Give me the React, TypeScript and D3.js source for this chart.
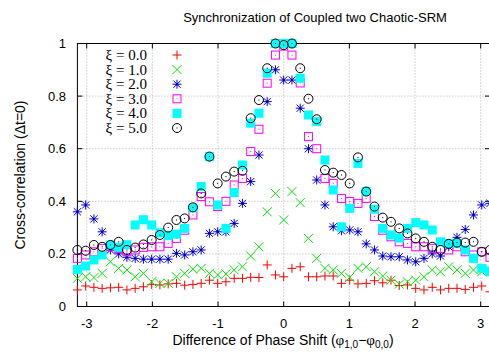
import React from "react";
import * as d3 from "d3";

const W = 489, H = 354;
const N_POINTS = 51;
const xTicks = [-3, -2, -1, 0, 1, 2, 3];
const yTicks = [0, 0.2, 0.4, 0.6, 0.8, 1];
const yTickLabels = ["0", "0.2", "0.4", "0.6", "0.8", "1"];
const legendLabels = ["ξ = 0.0", "ξ = 1.0", "ξ = 2.0", "ξ = 3.0", "ξ = 4.0", "ξ = 5.0"];

const xi0 = [0.063, 0.078, 0.073, 0.069, 0.071, 0.073, 0.063, 0.069, 0.075, 0.084, 0.082, 0.086, 0.088, 0.081, 0.084, 0.088, 0.100, 0.088, 0.094, 0.107, 0.107, 0.111, 0.110, 0.158, 0.120, 0.113, 0.145, 0.151, 0.113, 0.113, 0.116, 0.116, 0.088, 0.100, 0.086, 0.088, 0.098, 0.090, 0.100, 0.080, 0.082, 0.069, 0.063, 0.073, 0.063, 0.069, 0.069, 0.065, 0.073, 0.078, 0.056];
const xi1 = [0.107, 0.113, 0.110, 0.126, 0.170, 0.145, 0.139, 0.113, 0.126, 0.094, 0.088, 0.088, 0.113, 0.126, 0.142, 0.145, 0.126, 0.120, 0.124, 0.139, 0.151, 0.192, 0.227, 0.360, 0.430, 0.329, 0.437, 0.395, 0.259, 0.183, 0.145, 0.139, 0.126, 0.111, 0.145, 0.151, 0.132, 0.116, 0.100, 0.085, 0.094, 0.100, 0.113, 0.139, 0.132, 0.151, 0.139, 0.126, 0.139, 0.132, 0.141];
const xi2 = [0.360, 0.386, 0.333, 0.284, 0.215, 0.200, 0.187, 0.183, 0.180, 0.180, 0.180, 0.180, 0.202, 0.196, 0.208, 0.215, 0.278, 0.284, 0.284, 0.316, 0.392, 0.475, 0.576, 0.779, 0.900, 0.861, 0.861, 0.754, 0.600, 0.481, 0.386, 0.303, 0.288, 0.291, 0.284, 0.238, 0.215, 0.192, 0.189, 0.189, 0.177, 0.170, 0.183, 0.200, 0.192, 0.227, 0.263, 0.293, 0.348, 0.386, 0.392];
const xi3 = [0.183, 0.196, 0.208, 0.221, 0.227, 0.221, 0.208, 0.215, 0.225, 0.227, 0.227, 0.240, 0.259, 0.290, 0.348, 0.418, 0.398, 0.380, 0.400, 0.462, 0.487, 0.589, 0.674, 0.849, 0.956, 0.990, 0.956, 0.850, 0.646, 0.600, 0.487, 0.468, 0.411, 0.399, 0.392, 0.411, 0.342, 0.290, 0.265, 0.246, 0.240, 0.227, 0.227, 0.221, 0.221, 0.215, 0.227, 0.208, 0.196, 0.208, 0.187];
const xi4 = [0.141, 0.154, 0.177, 0.196, 0.234, 0.225, 0.235, 0.310, 0.330, 0.310, 0.280, 0.270, 0.275, 0.297, 0.375, 0.456, 0.570, 0.386, 0.297, 0.433, 0.538, 0.697, 0.735, 0.887, 1.000, 1.000, 1.000, 0.868, 0.728, 0.703, 0.557, 0.443, 0.303, 0.373, 0.544, 0.437, 0.370, 0.297, 0.272, 0.260, 0.297, 0.319, 0.310, 0.291, 0.246, 0.240, 0.240, 0.215, 0.183, 0.145, 0.132];
const xi5 = [0.215, 0.212, 0.234, 0.227, 0.234, 0.246, 0.215, 0.224, 0.236, 0.253, 0.272, 0.300, 0.329, 0.335, 0.377, 0.430, 0.570, 0.468, 0.494, 0.513, 0.516, 0.716, 0.785, 0.906, 1.000, 0.994, 1.000, 0.906, 0.790, 0.712, 0.519, 0.509, 0.500, 0.468, 0.567, 0.437, 0.380, 0.338, 0.322, 0.297, 0.278, 0.259, 0.246, 0.227, 0.215, 0.238, 0.243, 0.243, 0.246, 0.208, 0.215];

const series = [xi0, xi1, xi2, xi3, xi4, xi5];
const colors = ["#ff0000", "#00e600", "#0000ff", "#ff00ff", "#00ffff", "#000000"];
const kinds = ["plus", "cross", "star", "box", "fbox", "circle"];

const left = 77.4, right = 490, top = 43.5, bottom = 306.5;
const x = d3.scaleLinear().domain([-Math.PI, Math.PI]).range([left, right]);
const y = d3.scaleLinear().domain([0, 1]).range([bottom, top]);
const phases = d3.range(N_POINTS).map((i) => -Math.PI + (i * 2 * Math.PI) / (N_POINTS - 1));

function Marker({ kind, cx, cy, color }: { kind: string; cx: number; cy: number; color: string }) {
  const s = 4.5;
  if (kind === "plus")
    return <path d={`M${cx - s},${cy}H${cx + s}M${cx},${cy - s}V${cy + s}`} stroke={color} strokeWidth={1} fill="none" />;
  if (kind === "cross")
    return <path d={`M${cx - s},${cy - s}L${cx + s},${cy + s}M${cx - s},${cy + s}L${cx + s},${cy - s}`} stroke={color} strokeWidth={1} fill="none" />;
  if (kind === "star") {
    const t = 3.6;
    return (
      <g>
        <path d={`M${cx - s},${cy}H${cx + s}M${cx},${cy - s}V${cy + s}M${cx - t},${cy - t}L${cx + t},${cy + t}M${cx - t},${cy + t}L${cx + t},${cy - t}`} stroke={color} strokeWidth={1} fill="none" />
        <circle cx={cx} cy={cy} r={1.2} fill="#000080" />
      </g>
    );
  }
  if (kind === "box")
    return (
      <g>
        <rect x={cx - 4} y={cy - 4} width={8} height={8} stroke={color} strokeWidth={1} fill="none" />
        <rect x={cx - 0.5} y={cy - 0.5} width={1} height={1} fill={color} />
      </g>
    );
  if (kind === "fbox")
    return <rect x={cx - 4.5} y={cy - 4.5} width={9} height={9} fill={color} stroke="none" />;
  return (
    <g>
      <circle cx={cx} cy={cy} r={4.5} stroke={color} strokeWidth={1} fill="none" />
      <rect x={cx - 0.5} y={cy - 0.5} width={1} height={1} fill={color} />
    </g>
  );
}

export default function App() {
  const sans = "'Liberation Sans', Arial, sans-serif";
  const serif = "'Liberation Serif', 'Times New Roman', serif";
  const legendY0 = 55, legendDy = 14.6;
  return (
    <svg width={W} height={H} style={{ position: "absolute", left: 0, top: 0, background: "#fff" }}>
      <rect x={0} y={0} width={W} height={H} fill="#fff" />
      {/* grid */}
      {xTicks.map((t) => (
        <line key={"gx" + t} x1={x(t)} x2={x(t)} y1={top} y2={bottom} stroke="#a0a0a0" strokeWidth={0.8} strokeDasharray="1,2" />
      ))}
      {yTicks.slice(1, -1).map((t) => (
        <line key={"gy" + t} x1={left} x2={right} y1={y(t)} y2={y(t)} stroke="#a0a0a0" strokeWidth={0.8} strokeDasharray="1,2" />
      ))}
      {/* ticks */}
      {xTicks.map((t) => (
        <g key={"tx" + t}>
          <line x1={x(t)} x2={x(t)} y1={bottom} y2={bottom - 5} stroke="#000" />
          <line x1={x(t)} x2={x(t)} y1={top} y2={top + 5} stroke="#000" />
          <text x={x(t)} y={328} textAnchor="middle" fontFamily={sans} fontSize={13}>{t}</text>
        </g>
      ))}
      {yTicks.map((t, i) => (
        <g key={"ty" + t}>
          <line x1={left} x2={left + 5} y1={y(t)} y2={y(t)} stroke="#000" />
          <line x1={right} x2={right - 5} y1={y(t)} y2={y(t)} stroke="#000" />
          <text x={66} y={y(t) + 4.5} textAnchor="end" fontFamily={sans} fontSize={13}>{yTickLabels[i]}</text>
        </g>
      ))}
      <rect x={left} y={top} width={right - left} height={bottom - top} fill="none" stroke="#000" strokeWidth={1} />
      {/* data */}
      {series.map((vals, si) => (
        <g key={"s" + si}>
          {vals.map((v, i) => (
            <Marker key={i} kind={kinds[si]} cx={x(phases[i])} cy={y(v)} color={colors[si]} />
          ))}
        </g>
      ))}
      {/* legend */}
      {legendLabels.map((lab, i) => (
        <g key={"lg" + i}>
          <text x={147} y={legendY0 + i * legendDy + 5} textAnchor="end" fontFamily={serif} fontSize={15}>{lab}</text>
          <Marker kind={kinds[i]} cx={177} cy={legendY0 + i * legendDy} color={colors[i]} />
        </g>
      ))}
      {/* titles */}
      <text x={315} y={22} textAnchor="middle" fontFamily={sans} fontSize={13}>Synchronization of Coupled two Chaotic-SRM</text>
      <text transform={`translate(25,${(top + bottom) / 2}) rotate(-90)`} textAnchor="middle" fontFamily={sans} fontSize={14}>Cross-correlation (Δt=0)</text>
      <text x={283} y={345} textAnchor="middle" fontFamily={sans} fontSize={14}>
        Difference of Phase Shift (<tspan fontFamily={serif} fontSize={15}>φ</tspan>
        <tspan fontSize={10} dy={3}>1,0</tspan>
        <tspan dy={-3}>−</tspan>
        <tspan fontFamily={serif} fontSize={15}>φ</tspan>
        <tspan fontSize={10} dy={3}>0,0</tspan>
        <tspan dy={-3}>)</tspan>
      </text>
    </svg>
  );
}
